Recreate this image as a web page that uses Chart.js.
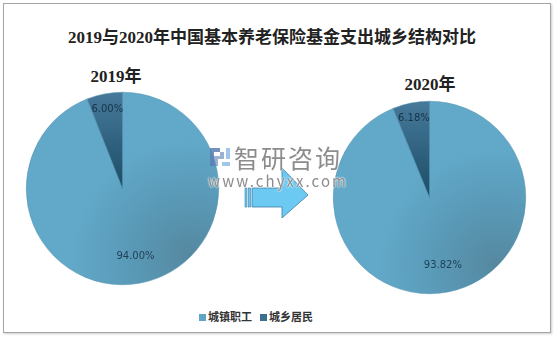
<!DOCTYPE html>
<html>
<head>
<meta charset="utf-8">
<script src="https://cdn.jsdelivr.net/npm/chart.js@4"></script>
<style>
  body { margin: 0; background: #fff; width: 556px; height: 338px; position: relative; overflow: hidden; }
  .frame { position: absolute; left: 3px; top: 3px; width: 546px; height: 328px; border: 1px solid #a6a6a6; box-shadow: 1px 1px 2px #ccc; }
  .txt { position: absolute; font-family: "Liberation Serif", "Noto Sans CJK SC", serif; font-weight: bold; color: #222; white-space: nowrap; }
  canvas { position: absolute; }
  #legend { position: absolute; left: 0; width: 512px; top: 308px; text-align: center; font: bold 11px "Noto Sans CJK SC", sans-serif; color: #333; }
  #legend span.sw { display: inline-block; width: 7px; height: 7px; margin-right: 2px; vertical-align: 0px; }
  #legend span.item { margin: 0 4px; }
  .wm { position: absolute; color: #8c8c8c; font-family: "Noto Sans CJK SC", sans-serif; text-shadow: 0 0 2px #fff, 0 0 2px #fff; white-space: nowrap; }
</style>
</head>
<body>
<div class="frame"></div>
<div class="txt" id="mainTitle" style="left:0;width:544px;text-align:center;top:23px;font-size:17px;"></div>
<div class="txt" id="t0" style="left:54px;width:124px;text-align:center;top:62px;font-size:17px;"></div>
<div class="txt" id="t1" style="left:368px;width:124px;text-align:center;top:70px;font-size:17px;"></div>
<canvas id="pie0" width="195" height="195" style="left:25px;top:91px;"></canvas>
<canvas id="pie1" width="195" height="195" style="left:332px;top:100px;"></canvas>
<svg style="position:absolute;left:240px;top:162px;" width="75" height="60">
  <rect x="5" y="26" width="2" height="19" fill="#6cc9f2" stroke="#3d7fa3" stroke-width="0.6"/>
  <rect x="8.5" y="26" width="2" height="19" fill="#6cc9f2" stroke="#3d7fa3" stroke-width="0.6"/>
  <polygon points="12,26 42,26 42,6 68,33 42,56 42,45 12,45" fill="#6cc9f2" stroke="#3d7fa3" stroke-width="0.8"/>
</svg>
<svg style="position:absolute;left:208px;top:146px;" width="24" height="22">
  <path d="M2 2 H12 V6 H6 V20 H2 Z" fill="#5b7fb5" opacity="0.85"/>
  <path d="M6 10 H12 V6 H16 V13 H10 V20 H6 Z" fill="#5b7fb5" opacity="0.6"/>
  <path d="M14 16 H22 V20 H14 Z M18 2 H22 V13 H18 Z" fill="#8fbde6" opacity="0.85"/>
</svg>
<div class="wm" style="left:234px;top:139px;font-size:25px;letter-spacing:2px;">智研咨询</div>
<div class="wm" style="left:208px;top:170px;font-size:15px;letter-spacing:2.1px;">www.chyxx.com</div>
<div id="legend"></div>
<script>
const mainTitle = '2019与2020年中国基本养老保险基金支出城乡结构对比';
const categories = ['城镇职工', '城乡居民'];
const years = ['2019年', '2020年'];
const values2019 = [94.00, 6.00];
const values2020 = [93.82, 6.18];
const baseColors = ['#5fa6c6', '#3c6f8f'];

document.getElementById('mainTitle').textContent = mainTitle;
document.getElementById('t0').textContent = years[0];
document.getElementById('t1').textContent = years[1];
document.getElementById('legend').innerHTML = categories.map((c, i) =>
  `<span class="item"><span class="sw" style="background:${baseColors[i]}"></span>${c}</span>`).join('');

// shaded fill like the original (darker toward lower right / center)
const shade = (ctx) => {
  const area = ctx.chart.chartArea;
  if (!area) return baseColors[ctx.dataIndex];
  const c = ctx.chart.ctx;
  const cx = (area.left + area.right) / 2;
  const cy = (area.top + area.bottom) / 2;
  const r = Math.min(area.right - area.left, area.bottom - area.top) / 2;
  if (ctx.dataIndex === 0) {
    const gx = cx + r * 0.7, gy = cy + r * 0.7;
    const g = c.createRadialGradient(gx, gy, 0, gx, gy, r * 1.25);
    g.addColorStop(0, '#55889f');
    g.addColorStop(0.55, '#5a9bb9');
    g.addColorStop(1, '#62a9c9');
    return g;
  }
  const g = c.createLinearGradient(cx, cy - r, cx, cy);
  g.addColorStop(0, '#47799b');
  g.addColorStop(1, '#1b4d67');
  return g;
};

const labelPlugin = {
  id: 'sliceLabels',
  afterDatasetsDraw(chart) {
    const c = chart.ctx;
    const meta = chart.getDatasetMeta(0);
    const data = chart.data.datasets[0].data;
    c.save();
    c.font = '10px "DejaVu Sans", sans-serif';
    c.textAlign = 'center';
    c.textBaseline = 'middle';
    meta.data.forEach((arc, i) => {
      const mid = (arc.startAngle + arc.endAngle) / 2;
      const f = i === 0 ? 0.72 : 0.84;
      const x = arc.x + Math.cos(mid) * arc.outerRadius * f;
      const y = arc.y + Math.sin(mid) * arc.outerRadius * f;
      c.fillStyle = i === 0 ? '#1f3f55' : '#173447';
      c.fillText(data[i].toFixed(2) + '%', x, y);
    });
    c.restore();
  }
};

const makePie = (id, values) => new Chart(document.getElementById(id), {
  type: 'pie',
  data: {
    labels: categories,
    datasets: [{
      data: values,
      backgroundColor: shade,
      borderWidth: 0.5,
      borderColor: '#4f8fae'
    }]
  },
  options: {
    responsive: false,
    animation: false,
    layout: { padding: 1 },
    plugins: { legend: { display: false }, tooltip: { enabled: false } }
  },
  plugins: [labelPlugin]
});

makePie('pie0', values2019);
makePie('pie1', values2020);
</script>
</body>
</html>
